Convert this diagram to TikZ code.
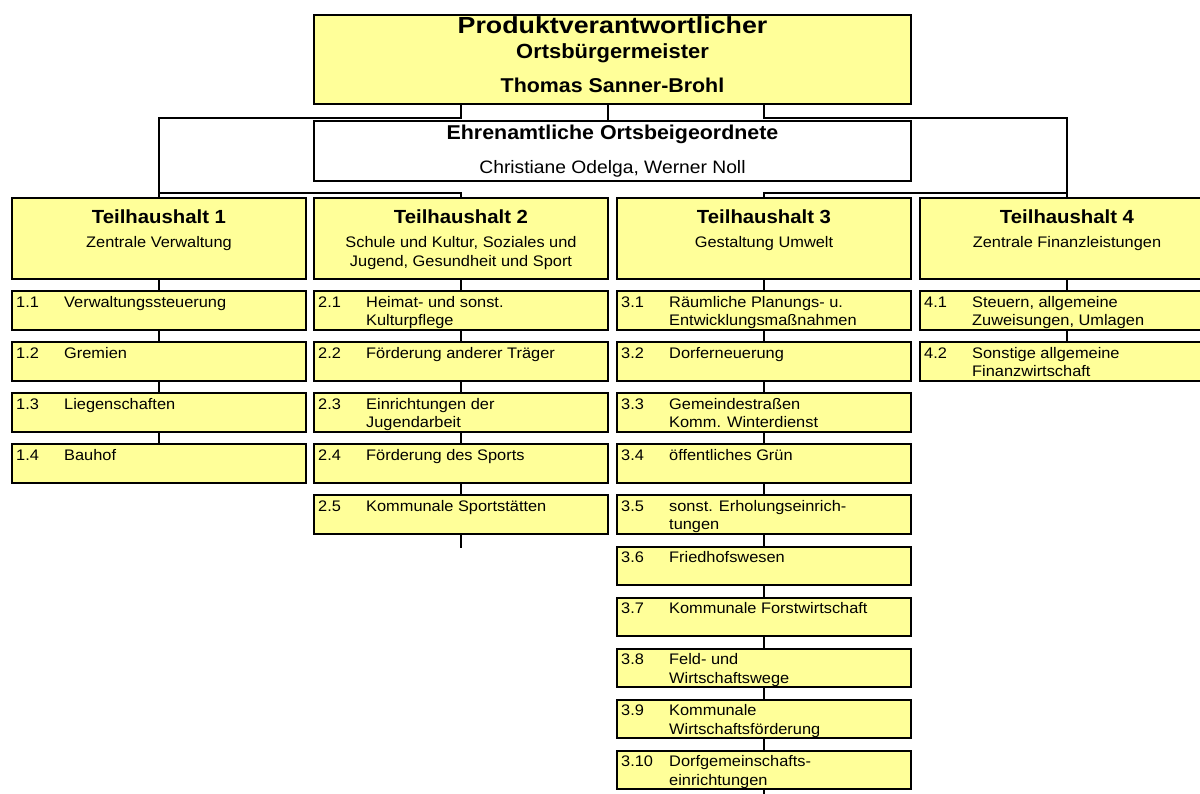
\documentclass[tikz,border=0pt]{standalone}
\usepackage{fontspec}
\setmainfont[FakeStretch=1.07]{Liberation Sans}
\newfontfamily\widefont[FakeStretch=1.15]{Liberation Sans}
\definecolor{boxyellow}{HTML}{FFFF99}
\tikzset{
 conn/.style={line width=2pt, draw=black},
 ybox/.style={draw=black, line width=2pt, fill=boxyellow, inner sep=0pt, anchor=north west},
 itembox/.style={ybox, minimum width=294pt, minimum height=38.5pt},
 headbox/.style={ybox, minimum width=294pt, minimum height=81pt},
 itemtxt/.style={inner sep=0pt, anchor=base west, font=\fontsize{15.3}{18}\selectfont},
 headtitle/.style={inner sep=0pt, anchor=base, font=\bfseries\fontsize{19}{22}\selectfont},
 headsub/.style={inner sep=0pt, anchor=base, font=\fontsize{15.3}{18}\selectfont},
}
\newcommand\mkitem[6]{%
 \node[itembox] (#1) at (#2,#3) {};
 \node[itemtxt] (#1n) at ([xshift=5pt,yshift=-17pt]#1.north west) {#4};
 \node[itemtxt] (#1a) at ([xshift=53pt,yshift=-17pt]#1.north west) {#5};
 \node[itemtxt] (#1b) at ([xshift=53pt,yshift=-35.5pt]#1.north west) {#6};
}
\newcommand\mkhead[5]{%
 \node[headbox] (#1) at (#2,197) {};
 \node[headtitle] (#1t) at ([yshift=-26pt]#1.north) {#3};
 \node[headsub] (#1s) at ([yshift=-50pt]#1.north) {#4};
 \node[headsub] (#1u) at ([yshift=-69pt]#1.north) {#5};
}
\begin{document}
\begin{tikzpicture}[x=1pt,y=-1pt]
\useasboundingbox (0,0) rectangle (1200,793);
\clip (0,0) rectangle (1200,793);

% top boxes
\node[ybox, minimum width=597pt, minimum height=89pt] (top) at (313,14) {};
\node[inner sep=0pt, anchor=base, font=\widefont\bfseries\fontsize{23.3}{28}\selectfont] (topa) at ([yshift=-19.5pt]top.north) {Produktverantwortlicher};
\node[inner sep=0pt, anchor=base, font=\bfseries\fontsize{20.5}{24}\selectfont] (topb) at ([yshift=-44pt]top.north) {Ortsbürgermeister};
\node[inner sep=0pt, anchor=base, font=\bfseries\fontsize{20}{24}\selectfont] (topc) at ([yshift=-78pt]top.north) {Thomas Sanner-Brohl};

\node[draw=black, line width=2pt, fill=white, inner sep=0pt, anchor=north west, minimum width=597pt, minimum height=60pt] (eb) at (313,120) {};
\node[inner sep=0pt, anchor=base, font=\bfseries\fontsize{20}{24}\selectfont] (eba) at ([yshift=-19pt]eb.north) {Ehrenamtliche Ortsbeigeordnete};
\node[inner sep=0pt, anchor=base, font=\fontsize{18}{22}\selectfont] (ebb) at ([yshift=-53pt]eb.north) {Christiane Odelga, Werner Noll};

% headers
\mkhead{th1}{11}{Teilhaushalt 1}{Zentrale Verwaltung}{}
\mkhead{th2}{313}{Teilhaushalt 2}{Schule und Kultur, Soziales und}{Jugend, Gesundheit und Sport}
\mkhead{th3}{616}{Teilhaushalt 3}{Gestaltung Umwelt}{}
\mkhead{th4}{919}{Teilhaushalt 4}{Zentrale Finanzleistungen}{}

% column 1
\mkitem{i11}{11}{290}{1.1}{Verwaltungssteuerung}{}
\mkitem{i12}{11}{341.1}{1.2}{Gremien}{}
\mkitem{i13}{11}{392.2}{1.3}{Liegenschaften}{}
\mkitem{i14}{11}{443.3}{1.4}{Bauhof}{}
% column 2
\mkitem{i21}{313}{290}{2.1}{Heimat- und sonst.}{Kulturpflege}
\mkitem{i22}{313}{341.1}{2.2}{Förderung anderer Träger}{}
\mkitem{i23}{313}{392.2}{2.3}{Einrichtungen der}{Jugendarbeit}
\mkitem{i24}{313}{443.3}{2.4}{Förderung des Sports}{}
\mkitem{i25}{313}{494.4}{2.5}{Kommunale Sportstätten}{}
% column 3
\mkitem{i31}{616}{290}{3.1}{Räumliche Planungs- u.}{Entwicklungsmaßnahmen}
\mkitem{i32}{616}{341.1}{3.2}{Dorferneuerung}{}
\mkitem{i33}{616}{392.2}{3.3}{Gemeindestraßen}{Komm. Winterdienst}
\mkitem{i34}{616}{443.3}{3.4}{öffentliches Grün}{}
\mkitem{i35}{616}{494.4}{3.5}{sonst. Erholungseinrich-}{tungen}
\mkitem{i36}{616}{545.5}{3.6}{Friedhofswesen}{}
\mkitem{i37}{616}{596.6}{3.7}{Kommunale Forstwirtschaft}{}
\mkitem{i38}{616}{647.7}{3.8}{Feld- und}{Wirtschaftswege}
\mkitem{i39}{616}{698.8}{3.9}{Kommunale}{Wirtschaftsförderung}
\mkitem{i310}{616}{749.9}{3.10}{Dorfgemeinschafts-}{einrichtungen}
% column 4
\mkitem{i41}{919}{290}{4.1}{Steuern, allgemeine}{Zuweisungen, Umlagen}
\mkitem{i42}{919}{341.1}{4.2}{Sonstige allgemeine}{Finanzwirtschaft}

% connectors top
\draw[conn] ([xshift=-5pt]top.south) -- ([xshift=-5pt]eb.north);
\draw[conn] (top.south -| th2.north) -- ++(0,13) -| (th1.north);
\draw[conn] (th1.north) -- ++(0,-4) -| (th2.north);
\draw[conn] (top.south -| th3.north) -- ++(0,13) -| (th4.north);
\draw[conn] (th4.north) -- ++(0,-4) -| (th3.north);

% column connectors
\draw[conn] (th1.south) -- (i11.north);
\draw[conn] (i11.south) -- (i12.north);
\draw[conn] (i12.south) -- (i13.north);
\draw[conn] (i13.south) -- (i14.north);

\draw[conn] (th2.south) -- (i21.north);
\draw[conn] (i21.south) -- (i22.north);
\draw[conn] (i22.south) -- (i23.north);
\draw[conn] (i23.south) -- (i24.north);
\draw[conn] (i24.south) -- (i25.north);
\coordinate (e2) at ([yshift=-13pt]i25.south);
\draw[conn] (i25.south) -- (e2);

\draw[conn] (th3.south) -- (i31.north);
\draw[conn] (i31.south) -- (i32.north);
\draw[conn] (i32.south) -- (i33.north);
\draw[conn] (i33.south) -- (i34.north);
\draw[conn] (i34.south) -- (i35.north);
\draw[conn] (i35.south) -- (i36.north);
\draw[conn] (i36.south) -- (i37.north);
\draw[conn] (i37.south) -- (i38.north);
\draw[conn] (i38.south) -- (i39.north);
\draw[conn] (i39.south) -- (i310.north);
\coordinate (e3) at ([yshift=-6pt]i310.south);
\draw[conn] (i310.south) -- (e3);

\draw[conn] (th4.south) -- (i41.north);
\draw[conn] (i41.south) -- (i42.north);
\end{tikzpicture}
\end{document}
